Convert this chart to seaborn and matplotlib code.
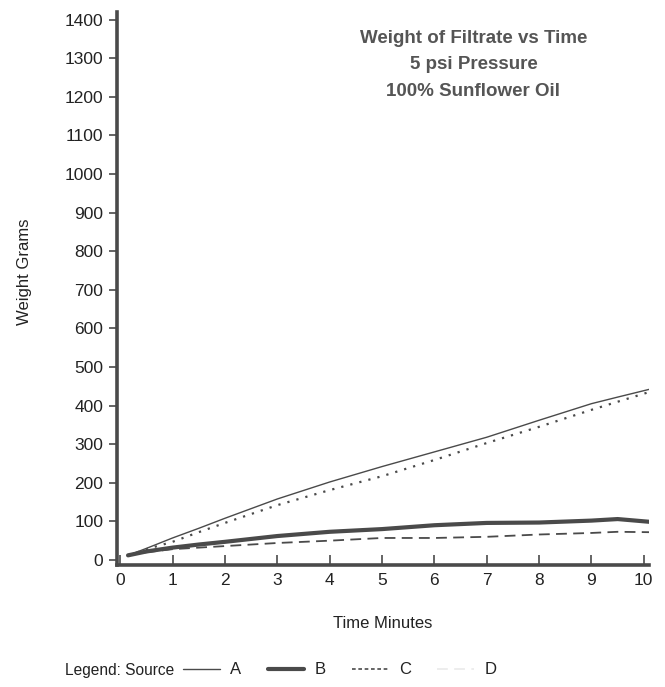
import matplotlib
matplotlib.use("Agg")
import matplotlib.pyplot as plt
import seaborn as sns
import pandas as pd
from matplotlib.lines import Line2D

sns.set_style("white")
plt.rcParams["font.family"] = ["Liberation Sans", "DejaVu Sans"]

time_min = [0.15, 0.5, 1, 1.5, 2, 3, 4, 5, 6, 7, 8, 9, 9.5, 10.1]
source_a = [12, 30, 57, 82, 108, 158, 202, 242, 280, 318, 362, 405, 422, 442]
source_b = [12, 22, 32, 40, 47, 62, 73, 80, 90, 96, 97, 102, 106, 99]
source_c = [12, 28, 47, 72, 96, 142, 181, 217, 259, 303, 345, 389, 410, 435]
source_d = [12, 20, 28, 32, 36, 44, 50, 57, 57, 60, 66, 70, 73, 72]
x_ticks = list(range(0, 11))
y_ticks = list(range(0, 1401, 100))

ink = "#4a4a4a"
styles = {
    "A": dict(lw=1.0, ls="-"),
    "B": dict(lw=3.0, ls="-"),
    "C": dict(lw=1.6, ls=(0, (1.0, 3.2))),
    "D": dict(lw=1.3, ls=(0, (6, 3.5))),
}
series = {"A": source_a, "B": source_b, "C": source_c, "D": source_d}

fig = plt.figure(figsize=(6.65, 6.87), dpi=100)
ax = fig.add_axes([0.176, 0.1776, 0.80, 0.805])

for name, vals in series.items():
    df = pd.DataFrame({"t": time_min, "w": vals})
    st = styles[name]
    sns.lineplot(data=df, x="t", y="w", ax=ax, color=ink,
                 linewidth=st["lw"], linestyle=st["ls"], label=None)

ax.set_xlim(-0.06, 10.1)
ax.set_ylim(-13, 1420)
ax.set_xticks(x_ticks)
ax.set_yticks(y_ticks)
ax.tick_params(axis="y", left=True, direction="out", length=6, width=1.2, color=ink,
               labelsize=12.5, labelcolor="#222", pad=4)
ax.tick_params(axis="x", bottom=True, direction="in", length=7, width=1.2, color=ink,
               labelsize=12.5, labelcolor="#222", pad=6)
for s in ["top", "right"]:
    ax.spines[s].set_visible(False)
for s in ["left", "bottom"]:
    ax.spines[s].set_color(ink)
    ax.spines[s].set_linewidth(2.6)

ax.set_xlabel("Time Minutes", fontsize=12, color="#222", labelpad=20)
ax.set_ylabel("Weight Grams", fontsize=12, color="#222")
ax.yaxis.set_label_coords(-0.16, 0.53)

ax.text(0.67, 0.968, "Weight of Filtrate vs Time\n5 psi Pressure\n100% Sunflower Oil",
        transform=ax.transAxes, ha="center", va="top", fontsize=13.5,
        fontweight="bold", color="#555", linespacing=1.75)

fig.text(0.098, 0.013, "Legend: Source", fontsize=11.2, color="#222", va="bottom")
handles = [Line2D([], [], color=ink, linewidth=styles[k]["lw"], linestyle=styles[k]["ls"])
           for k in series]
handles[2].set_linestyle((0, (2.2, 1.6)))
handles[2].set_linewidth(1.2)
handles[3].set_alpha(0.1)
leg = fig.legend(handles, list(series.keys()), ncol=4, frameon=False,
                 loc="lower left", bbox_to_anchor=(0.253, -0.008),
                 fontsize=12, handlelength=2.2, handletextpad=0.6,
                 columnspacing=1.6, labelcolor="#222")

fig.savefig("out.png", dpi=100)
